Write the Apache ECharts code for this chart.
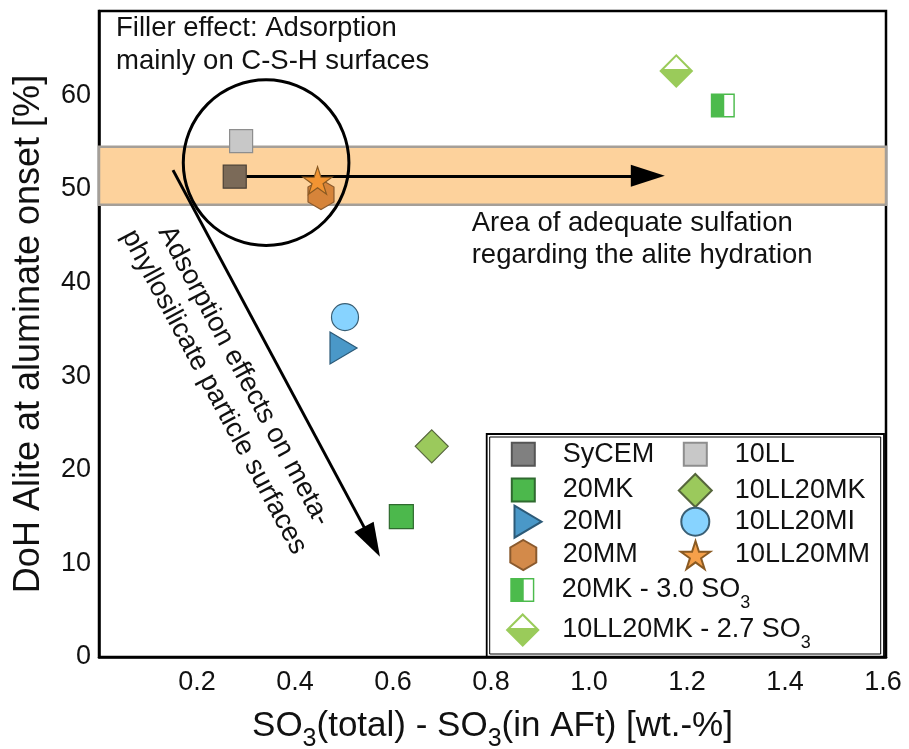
<!DOCTYPE html>
<html><head><meta charset="utf-8">
<script src="https://cdn.jsdelivr.net/npm/echarts@6/dist/echarts.min.js"></script>
<style>html,body{margin:0;padding:0;background:#fff}#c{width:909px;height:749px}</style>
</head><body><div id="c"></div>
<script>
// ---------- data ----------
const samples = ['SyCEM', '10LL', '20MK', '10LL20MK', '20MI', '10LL20MI', '20MM', '10LL20MM', '20MK - 3.0 SO₃', '10LL20MK - 2.7 SO₃'];
const so3Excess = [0.277, 0.290, 0.617, 0.679, 0.499, 0.502, 0.453, 0.446, 1.273, 1.178];
const dohAlite  = [51.3, 55.1, 15.0, 22.5, 33.0, 36.3, 49.4, 50.9, 58.9, 62.6];
const sulfationBand = [48.3, 54.5];
const fillerArrow = [[0.277, 51.4], [1.12, 51.4]];
const adsorptionArrow = [[0.151, 52.0], [0.557, 12.3]];
const fillerCircleCenter = [0.341, 52.8];
const fillerCircleRadiusX = 0.169;
const xRange = [0, 1.606], xStep = 0.2;
const yRange = [0, 69], yStep = 10;

// ---------- styles ----------
const FONT = '"Liberation Sans", Arial, Helvetica, sans-serif';
const SYM = {
  square: 'path://M0,0H20V20H0Z',
  diamond: 'path://M10,0L20,10L10,20L0,10Z',
  triRight: 'path://M0,0L16.9,10L0,20Z',
  hexagon: 'path://M50,0L93.3,25L93.3,75L50,100L6.7,75L6.7,25Z',
  star: 'path://M50,0L61.17,34.63L97.55,34.55L68.07,55.87L79.39,90.45L50,69L20.61,90.45L31.93,55.87L2.45,34.55L38.83,34.63Z',
  halfSquare: 'path://M0,0H10V20H0Z M10,0H20V20H10Z M11.2,1.2V18.8H18.8V1.2Z',
  halfDiamond: 'path://M0,10L20,10L10,20Z M0,10L10,0L20,10Z M2.9,8.8L17.1,8.8L10,1.7Z'
};
const styles = [
  {symbol: SYM.square,     size: 23, color: '#7b6a58', border: '#4a4036', bw: 1.2, legendColor: '#808080', legendBorder: '#555'},
  {symbol: SYM.square,     size: 23, color: '#c8c8c8', border: '#8e8e8e', bw: 1.2},
  {symbol: SYM.square,     size: 24, color: '#4cb84c', border: '#2f6a2f', bw: 1.2},
  {symbol: SYM.diamond,    size: 33, color: '#9bc95c', border: '#56663c', bw: 1.2},
  {symbol: SYM.triRight,   size: 32, color: '#4a98c8', border: '#2c5a78', bw: 1.2},
  {symbol: 'circle',       size: 27, color: '#87d3ff', border: '#3a5f75', bw: 1.2},
  {symbol: SYM.hexagon,    size: 30, color: '#d6843a', border: '#8a5a2e', bw: 1.2, legendColor: '#d38a4a'},
  {symbol: SYM.star,       size: 29, color: '#f29432', border: '#8a5a22', bw: 1.2, legendColor: '#f5a04a'},
  {symbol: SYM.halfSquare, size: 24, color: '#4cbb4c', border: '#4cbb4c', bw: 0},
  {symbol: SYM.halfDiamond,size: 34, color: '#9acb5a', border: '#9acb5a', bw: 0}
];
// legend layout: icon centre x, row centre y, icon box height, drawn icon width, extra top shift, item width
const legendLayout = [
  [522.3, 454.3, 23, 23, 0, 69],    [694.3, 454.3, 23, 23, 0, 69],
  [522.3, 490, 23, 23, 0, 69],      [694.3, 490, 33, 33, 0, 69],
  [527, 521.7, 32, 27, 0, 59.4],    [694.3, 521.7, 28, 28, 0, 69],
  [522.3, 555, 30, 26, 0, 69],      [694.3, 555, 28, 29, 0, 69],
  [522.3, 590, 24, 24, -5.5, 69],   [522.7, 630, 34, 34, -5.5, 69]
];

const series = [];
series.push({
  type: 'scatter', name: '_band', data: [], z: 1, silent: true,
  markArea: {
    silent: true, z: 1,
    itemStyle: {color: '#FDD29C', borderColor: '#A59F98', borderWidth: 2.5},
    data: [[{xAxis: xRange[0], yAxis: sulfationBand[0]}, {xAxis: xRange[1], yAxis: sulfationBand[1]}]]
  }
});
series.push({
  type: 'scatter', name: '_arrows', data: [], z: 2, silent: true,
  markLine: {
    silent: true, z: 2, animation: false,
    symbol: ['none', 'triangle'], symbolSize: [22, 34],
    label: {show: false},
    lineStyle: {color: '#000', width: 3, type: 'solid'},
    emphasis: {disabled: true},
    data: [
      [{coord: fillerArrow[0]}, {coord: fillerArrow[1]}],
      [{coord: adsorptionArrow[0]}, {coord: adsorptionArrow[1]}]
    ]
  }
});
samples.forEach((name, i) => {
  const s = styles[i];
  series.push({
    type: 'scatter', name: name, z: 3,
    data: [[so3Excess[i], dohAlite[i]]],
    symbol: s.symbol, symbolSize: s.size, symbolKeepAspect: true,
    itemStyle: {color: s.color, borderColor: s.border, borderWidth: s.bw, opacity: 1},
    emphasis: {disabled: true}
  });
});

const legends = samples.map((name, i) => {
  const [cx, cy, sz, w, dy, iw] = legendLayout[i];
  const s = styles[i];
  const item = {name: name};
  if (s.legendColor) item.itemStyle = {color: s.legendColor, borderColor: s.legendBorder || s.border};
  return {
    data: [item], selectedMode: false, padding: 0,
    left: cx - w / 2, top: cy - 17 + dy, itemWidth: iw, itemHeight: sz,
    formatter: n => n.replace('SO₃', 'SO{s|3}'),
    textStyle: {fontSize: 27, fontFamily: FONT, color: '#111', lineHeight: 34,
      rich: {s: {fontSize: 18, fontFamily: FONT, color: '#111', lineHeight: 34, padding: [27, 0, 0, 0]}}}
  };
});

const option = {
  animation: false,
  backgroundColor: '#fff',
  grid: {left: 99, right: 23, top: 11, bottom: 92, outerBoundsMode: 'none', containLabel: false,
    show: true, borderColor: '#000', borderWidth: 2.5, backgroundColor: 'transparent'},
  xAxis: {
    type: 'value', min: xRange[0], max: xRange[1], interval: xStep,
    axisLine: {show: true, onZero: false, lineStyle: {color: '#000', width: 2.5}},
    axisTick: {show: false}, splitLine: {show: false},
    axisLabel: {showMinLabel: false, showMaxLabel: false, margin: 12, fontSize: 27, fontFamily: FONT, color: '#111', formatter: v => v.toFixed(1)},
    name: '{a|SO}{s|3}{a|(total) - SO}{s|3}{a|(in AFt) [wt.-%]}',
    nameLocation: 'middle', nameGap: 49, nameMoveOverlap: false,
    nameTextStyle: {fontSize: 35, fontFamily: FONT, color: '#111',
      rich: {a: {fontSize: 35, fontFamily: FONT, color: '#111', lineHeight: 40},
             s: {fontSize: 25, fontFamily: FONT, color: '#111', lineHeight: 40, padding: [26, 0, 0, 0]}}}
  },
  yAxis: {
    type: 'value', min: yRange[0], max: yRange[1], interval: yStep,
    axisLine: {show: true, onZero: false, lineStyle: {color: '#000', width: 2.5}},
    axisTick: {show: false}, splitLine: {show: false},
    axisLabel: {showMaxLabel: false, margin: 8, fontSize: 27, fontFamily: FONT, color: '#111'},
    name: 'DoH Alite at aluminate onset [%]',
    nameLocation: 'middle', nameGap: 50, nameMoveOverlap: false,
    nameTextStyle: {fontSize: 36, fontFamily: FONT, color: '#111', lineHeight: 40}
  },
  legend: legends,
  series: series
};

const chart = echarts.init(document.getElementById('c'), null, {renderer: 'canvas'});
chart.setOption(option);

const cc = chart.convertToPixel({gridIndex: 0}, fillerCircleCenter);
const ce = chart.convertToPixel({gridIndex: 0}, [fillerCircleCenter[0] + fillerCircleRadiusX, fillerCircleCenter[1]]);
const r = ce[0] - cc[0];

chart.setOption({
  graphic: [
    {type: 'circle', z: 50, silent: true, shape: {cx: cc[0], cy: cc[1], r: r}, style: {fill: 'none', stroke: '#000', lineWidth: 3}},
    {type: 'text', z: 50, silent: true, x: 116, y: 12,
      style: {text: 'Filler effect: Adsorption\nmainly on C-S-H surfaces', font: '27.5px ' + FONT, fill: '#111', lineHeight: 33, verticalAlign: 'top', align: 'left'}},
    {type: 'text', z: 50, silent: true, x: 471.7, y: 207.5,
      style: {text: 'Area of adequate sulfation\nregarding the alite hydration', font: '27.5px ' + FONT, fill: '#111', lineHeight: 32, verticalAlign: 'top', align: 'left'}},
    {type: 'text', z: 50, silent: true, x: 229, y: 384, rotation: -61.8 * Math.PI / 180,
      style: {text: 'Adsorption effects on meta-\nphyllosilicate particle surfaces', font: '27.5px ' + FONT, fill: '#111', lineHeight: 34, verticalAlign: 'middle', align: 'center'}},
    {type: 'rect', z: 50, silent: true, shape: {x: 486.7, y: 434, width: 397.3, height: 223}, style: {fill: 'none', stroke: '#000', lineWidth: 1.8}},
    {type: 'rect', z: 50, silent: true, shape: {x: 489.7, y: 437, width: 391, height: 217}, style: {fill: 'none', stroke: '#000', lineWidth: 1}}
  ]
});
</script>
</body></html>
